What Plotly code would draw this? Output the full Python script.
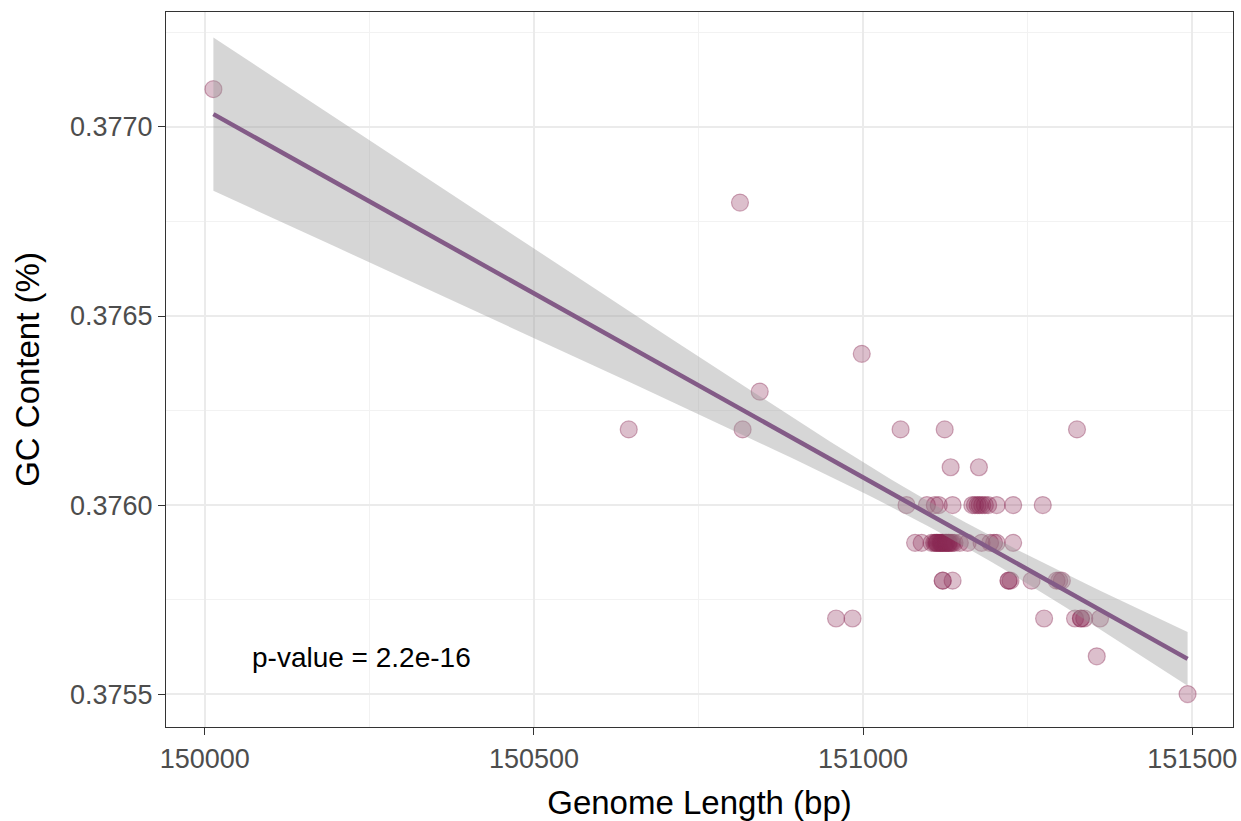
import numpy as np
import plotly.graph_objects as go

# Chloroplast genome length (bp) vs. GC content per accession
genome_length = [
    # scattered accessions
    150013, 150644, 150813, 150817, 150843, 150998, 150959, 150984,
    # GC 0.3762
    151057, 151124, 151325,
    # GC 0.3761
    151133, 151176,
    # GC 0.3760
    151066, 151097, 151109, 151115, 151136, 151166, 151170, 151174, 151177,
    151181, 151185, 151190, 151203, 151228, 151273,
    # GC 0.3759
    151079, 151089, 151104, 151108, 151110, 151112, 151112, 151114, 151116,
    151118, 151118, 151120, 151120, 151122, 151124, 151126, 151126, 151128,
    151130, 151130, 151132, 151134, 151136, 151139, 151147, 151159, 151180,
    151193, 151199, 151203, 151228,
    # GC 0.3758
    151121, 151121, 151136, 151221, 151221, 151224, 151256, 151294,
    151298, 151302,
    # GC 0.3757
    151275, 151322, 151331, 151331, 151336, 151360,
    # GC 0.3756
    151355,
    # GC 0.3755
    151493,
]
gc_content = (
    [0.3771, 0.3762, 0.3768, 0.3762, 0.3763, 0.3764, 0.3757, 0.3757]
    + [0.3762] * 3
    + [0.3761] * 2
    + [0.3760] * 15
    + [0.3759] * 31
    + [0.3758] * 10
    + [0.3757] * 6
    + [0.3756]
    + [0.3755]
)
p_value_label = "p-value = 2.2e-16"

x_ticks = [150000, 150500, 151000, 151500]
y_ticks = [0.3755, 0.3760, 0.3765, 0.3770]

# Ordinary least squares fit with a 95% confidence band
x = np.array(genome_length, dtype=float)
y = np.array(gc_content, dtype=float)
n = len(x)
slope, intercept = np.polyfit(x, y, 1)
resid = y - (slope * x + intercept)
s = np.sqrt(np.sum(resid ** 2) / (n - 2))
xbar = x.mean()
sxx = np.sum((x - xbar) ** 2)
t_crit = 1.992  # t quantile 0.975, ~75 df
xs = np.linspace(x.min(), x.max(), 80)
fit = slope * xs + intercept
se = s * np.sqrt(1.0 / n + (xs - xbar) ** 2 / sxx)
upper = fit + t_crit * se
lower = fit - t_crit * se

fig = go.Figure()

fig.add_trace(go.Scatter(
    x=x, y=y, mode="markers",
    marker=dict(size=17, color="rgba(139,42,85,0.30)",
                line=dict(color="rgba(139,42,85,0.38)", width=1.2)),
    showlegend=False, hoverinfo="x+y",
))

fig.add_trace(go.Scatter(
    x=np.concatenate([xs, xs[::-1]]),
    y=np.concatenate([upper, lower[::-1]]),
    fill="toself", fillcolor="rgba(153,153,153,0.4)",
    line=dict(width=0), mode="lines", showlegend=False, hoverinfo="skip",
))

fig.add_trace(go.Scatter(
    x=xs, y=fit, mode="lines",
    line=dict(color="#835B87", width=4.5),
    showlegend=False, hoverinfo="skip",
))

fig.add_annotation(
    x=150238, y=0.375596, text=p_value_label, showarrow=False,
    font=dict(family="Liberation Sans, Arial, sans-serif", size=28, color="black"),
    xanchor="center", yanchor="middle",
)

axis_common = dict(
    showgrid=True, gridcolor="#EBEBEB", gridwidth=1.5,
    zeroline=False,
    showline=True, mirror=True, linecolor="#333333", linewidth=1.2,
    ticks="outside", ticklen=7, tickwidth=1.2, tickcolor="#333333",
    tickfont=dict(family="Liberation Sans, Arial, sans-serif", size=27, color="#4D4D4D"),
)

fig.update_xaxes(
    **axis_common,
    range=[149941, 151562],
    tickvals=x_ticks, ticktext=[str(v) for v in x_ticks],
    minor=dict(tickvals=[150250, 150750, 151250], showgrid=True,
               gridcolor="#F2F2F2", gridwidth=1, ticks=""),
    title=dict(text="Genome Length (bp)", standoff=18,
               font=dict(family="Liberation Sans, Arial, sans-serif", size=33, color="black")),
)
fig.update_yaxes(
    **axis_common,
    range=[0.375413, 0.377304],
    tickvals=y_ticks, ticktext=[f"{v:.4f}" for v in y_ticks],
    minor=dict(tickvals=[0.37575, 0.37625, 0.37675, 0.37725], showgrid=True,
               gridcolor="#F2F2F2", gridwidth=1, ticks=""),
    title=dict(text="GC Content (%)", standoff=20,
               font=dict(family="Liberation Sans, Arial, sans-serif", size=33, color="black")),
)

fig.update_layout(
    width=1241, height=821,
    margin=dict(l=166, r=8, t=12, b=94, autoexpand=False),
    plot_bgcolor="white", paper_bgcolor="white",
    showlegend=False,
)

fig.write_html("out.html")
